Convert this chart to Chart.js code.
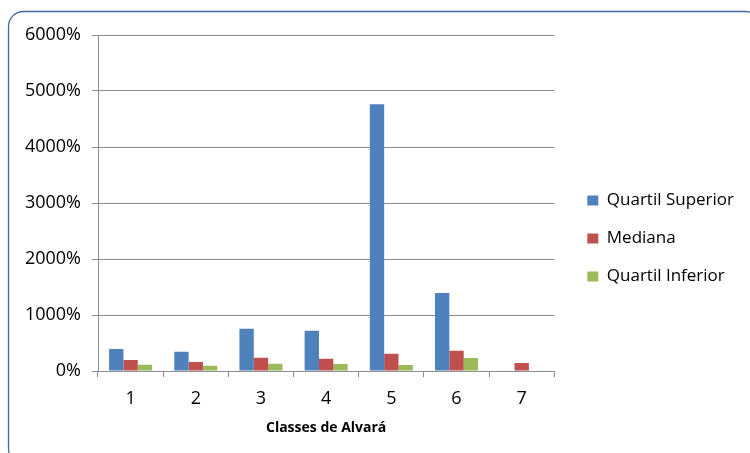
<!DOCTYPE html>
<html>
<head>
<meta charset="utf-8">
<script src="https://cdn.jsdelivr.net/npm/chart.js@4/dist/chart.umd.min.js"></script>
<style>
  html, body { margin: 0; padding: 0; background: #ffffff; }
  #wrap { width: 750px; height: 453px; position: relative; }
</style>
</head>
<body>
<div id="wrap"><canvas id="c" width="750" height="453"></canvas></div>
<script>
// Classes de Alvará and the three percentile series (in %)
const categories = ['1', '2', '3', '4', '5', '6', '7'];
const quartilSuperior = [393, 345, 755, 720, 4765, 1395, null];
const mediana = [196, 161, 238, 220, 309, 363, 143];
const quartilInferior = [113, 95, 130, 125, 107, 232, null];
const yTicks = [0, 1000, 2000, 3000, 4000, 5000, 6000];

const FONT = '"Open Sans", Lato, sans-serif';
const GRID = '#8c8c8c';

// rounded chart frame; its right and bottom edges run past the canvas
const framePlugin = {
  id: 'frame',
  beforeDraw(chart) {
    const ctx = chart.ctx;
    const x = 8.5, y = 11.5, w = 752, h = 452, r = 15;
    ctx.save();
    ctx.fillStyle = '#ffffff';
    ctx.fillRect(0, 0, chart.width, chart.height);
    ctx.beginPath();
    ctx.moveTo(x + r, y);
    ctx.lineTo(x + w - r, y);
    ctx.arcTo(x + w, y, x + w, y + r, r);
    ctx.lineTo(x + w, y + h - r);
    ctx.arcTo(x + w, y + h, x + w - r, y + h, r);
    ctx.lineTo(x + r, y + h);
    ctx.arcTo(x, y + h, x, y + h - r, r);
    ctx.lineTo(x, y + r);
    ctx.arcTo(x, y, x + r, y, r);
    ctx.closePath();
    ctx.strokeStyle = '#41689c';
    ctx.lineWidth = 1.3;
    ctx.stroke();
    ctx.restore();
  }
};

// push the legend a little further away from the plot
const LEGEND_SHIFT_X = 12;
const LEGEND_SHIFT_Y = 3;
const legendShiftPlugin = {
  id: 'legendShift',
  afterLayout(chart) {
    if (chart.legend) {
      chart.legend.left += LEGEND_SHIFT_X;
      chart.legend.right += LEGEND_SHIFT_X;
      chart.legend.top += LEGEND_SHIFT_Y;
      chart.legend.bottom += LEGEND_SHIFT_Y;
    }
  }
};

const PAD = { top: 35, right: 18, bottom: 17, left: 14 };

new Chart(document.getElementById('c'), {
  type: 'bar',
  data: {
    labels: categories,
    datasets: [
      { label: 'Quartil Superior', data: quartilSuperior, backgroundColor: '#4f81bd' },
      { label: 'Mediana', data: mediana, backgroundColor: '#c0504d' },
      { label: 'Quartil Inferior', data: quartilInferior, backgroundColor: '#9bbb59' }
    ]
  },
  options: {
    responsive: false,
    animation: false,
    devicePixelRatio: 1,
    layout: { padding: PAD },
    datasets: { bar: { categoryPercentage: 0.66, barPercentage: 1.0 } },
    plugins: {
      legend: {
        position: 'right',
        align: 'center',
        labels: {
          font: { family: FONT, size: 17 },
          color: '#000000',
          boxWidth: 11,
          boxHeight: 10,
          padding: 21
        }
      },
      tooltip: { enabled: false }
    },
    scales: {
      x: {
        afterFit(s) { s.height = 65; },
        grid: {
          display: true,
          drawOnChartArea: false,
          drawTicks: true,
          tickLength: 6,
          color: GRID,
          offset: true
        },
        border: { color: GRID, width: 1 },
        ticks: { font: { family: FONT, size: 18 }, color: '#000000', padding: 11 },
        title: {
          display: true,
          text: 'Classes de Alvará',
          font: { family: FONT, size: 14, weight: 'bold' },
          color: '#000000',
          padding: { top: 4, bottom: 0 }
        }
      },
      y: {
        min: 0,
        max: 6000,
        afterFit(s) { s.width = 98 - PAD.left; },
        afterBuildTicks(axis) { axis.ticks = yTicks.map(v => ({ value: v })); },
        grid: { color: GRID, tickLength: 6, lineWidth: 1 },
        border: { color: GRID, width: 1 },
        ticks: {
          font: { family: FONT, size: 18 },
          color: '#000000',
          padding: 11,
          callback: v => v + '%'
        }
      }
    }
  },
  plugins: [framePlugin, legendShiftPlugin]
});
</script>
</body>
</html>
